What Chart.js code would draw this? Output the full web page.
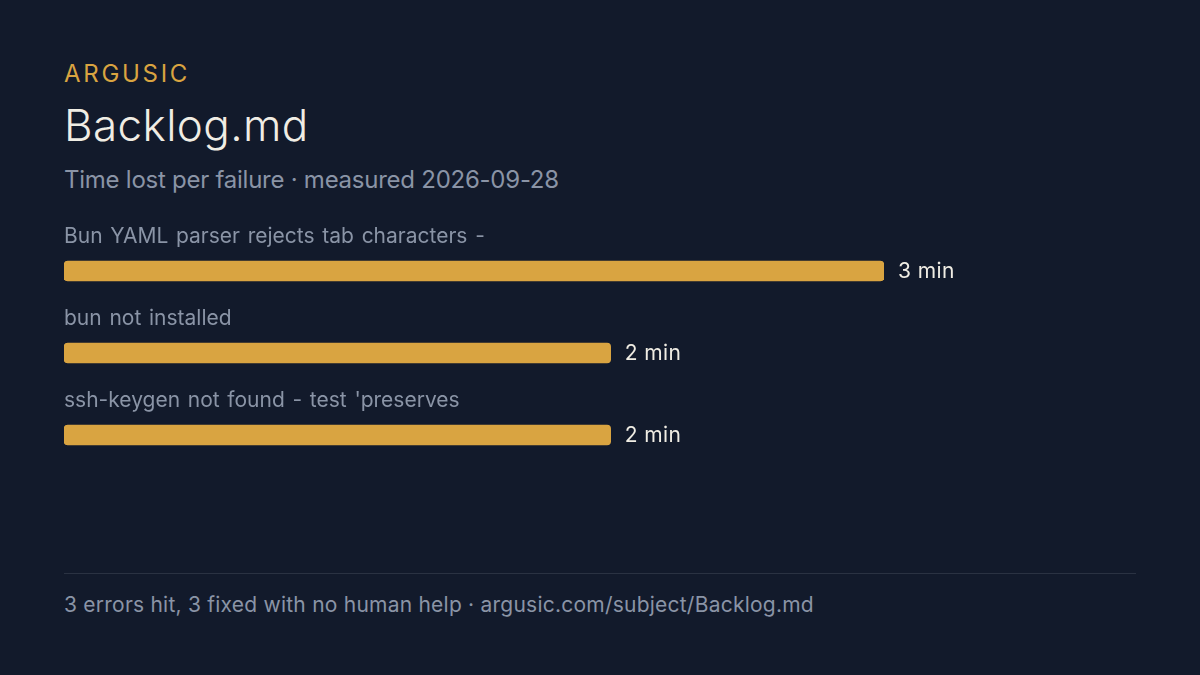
<!DOCTYPE html>
<html>
<head>
<meta charset="utf-8">
<script src="https://cdn.jsdelivr.net/npm/chart.js@4"></script>
<style>
html, body { margin: 0; padding: 0; background: #121a2b; }
body { width: 1200px; height: 675px; position: relative; overflow: hidden; font-family: Inter, sans-serif; }
.txt { position: absolute; left: 64px; white-space: nowrap; line-height: 1; }
#brand { top: 62px; font-size: 24px; letter-spacing: 2.7px; color: #d9a441; }
#title { top: 103px; font-size: 44px; font-weight: 350; letter-spacing: 0.4px; color: #f0ede4; }
#sub { top: 168px; font-size: 24px; letter-spacing: -0.25px; color: #8a94a6; }
#foot { top: 594px; font-size: 21px; letter-spacing: 0.23px; color: #8a94a6; }
#rule { position: absolute; left: 64px; top: 573px; width: 1072px; height: 1px; background: #2a3242; }
#wrap { position: absolute; left: 0; top: 210px; width: 1200px; height: 266px; }
</style>
</head>
<body>
<div class="txt" id="brand">ARGUSIC</div>
<div class="txt" id="title">Backlog.md</div>
<div class="txt" id="sub">Time lost per failure · measured 2026-09-28</div>
<div id="wrap"><canvas id="chart"></canvas></div>
<div id="rule"></div>
<div class="txt" id="foot">3 errors hit, 3 fixed with no human help · argusic.com/subject/Backlog.md</div>
<script>
const categories = ["Bun YAML parser rejects tab characters -", "bun not installed", "ssh-keygen not found - test 'preserves"];
const barValues = [3, 2, 2];
const valueLabels = ["3 min", "2 min", "2 min"];

// labels above the bars and values to the right of them
const barText = {
    id: 'barText',
    afterDatasetsDraw(chart) {
        const ctx = chart.ctx;
        const meta = chart.getDatasetMeta(0);
        ctx.save();
        ctx.textBaseline = 'middle';
        ctx.textAlign = 'left';
        ctx.font = '21px Inter, sans-serif';
        meta.data.forEach((bar, i) => {
            ctx.fillStyle = '#8a94a6';
            ctx.letterSpacing = '0px';
            ctx.wordSpacing = '1.8px';
            ctx.fillText(categories[i], chart.scales.x.left, bar.y - 34);
            ctx.fillStyle = '#f0ede4';
            ctx.letterSpacing = '0.4px';
            ctx.wordSpacing = '0px';
            ctx.fillText(valueLabels[i], bar.x + 14, bar.y + 1);
        });
        ctx.restore();
    }
};

new Chart(document.getElementById('chart'), {
    type: 'bar',
    data: {
        labels: categories,
        datasets: [{
            data: barValues,
            backgroundColor: '#d9a441',
            borderRadius: 4,
            borderSkipped: false,
            barThickness: 20
        }]
    },
    options: {
        indexAxis: 'y',
        responsive: true,
        maintainAspectRatio: false,
        animation: false,
        layout: { padding: { left: 64, right: 316, top: 20, bottom: 0 } },
        plugins: { legend: { display: false }, tooltip: { enabled: false } },
        scales: {
            x: { display: false, min: 0, max: 3 },
            y: { display: false }
        }
    },
    plugins: [barText]
});
</script>
</body>
</html>
